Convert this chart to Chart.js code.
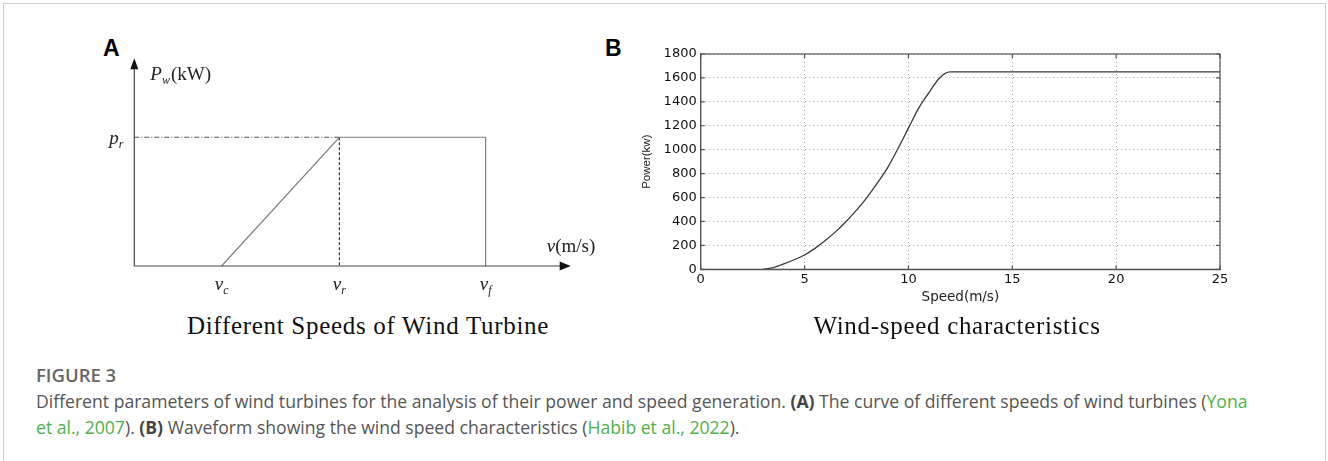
<!DOCTYPE html>
<html>
<head>
<meta charset="utf-8">
<script src="https://cdn.jsdelivr.net/npm/chart.js@4/dist/chart.umd.min.js"></script>
<style>
  html, body { margin: 0; padding: 0; background: #fff; }
  body { width: 1328px; height: 461px; position: relative; overflow: hidden; }
  #frame {
    position: absolute; left: 3px; top: 3px; width: 1321px; height: 470px;
    border: 1px solid #cfcfcf; border-bottom: none;
  }
  canvas { position: absolute; }
  .tag {
    position: absolute; font: bold 23px "Liberation Sans", Arial, sans-serif;
    color: #000; line-height: 23px;
  }
  .title {
    position: absolute; font: 25px "Liberation Serif", serif; color: #111;
    text-align: center; line-height: 25px; white-space: nowrap; letter-spacing: 0.7px;
  }
  #caption {
    position: absolute; left: 36px; top: 362px; width: 1280px;
    font: 17.6px "Open Sans", sans-serif; line-height: 26px; color: #555;
    white-space: nowrap;
  }
  #caption .fig { font-weight: 600; color: #666; font-size: 18.5px; }
  #caption b { font-weight: 700; color: #444; }
  #caption a { color: #4fb04a; text-decoration: none; }
</style>
</head>
<body>
<div id="frame"></div>

<div class="tag" style="left:103px; top:37px;">A</div>
<div class="tag" style="left:605px; top:37px;">B</div>

<canvas id="turbineCurve" width="515" height="275" style="left:95px; top:30px;"></canvas>
<canvas id="windPower" width="640" height="280" style="left:600px; top:30px;"></canvas>

<div class="title" style="left:168px; width:400px; top:313px;">Different Speeds of Wind Turbine</div>
<div class="title" style="left:757px; width:400px; top:313px;">Wind-speed characteristics</div>

<div id="caption">
  <div class="fig">FIGURE 3</div>
  <div>Different parameters of wind turbines for the analysis of their power and speed generation. <b>(A)</b> The curve of different speeds of wind turbines (<a>Yona</a><br><a>et al., 2007</a>). <b>(B)</b> Waveform showing the wind speed characteristics (<a>Habib et al., 2022</a>).</div>
</div>

<script>
// ---- panel A: idealised turbine curve (arbitrary units) ----
const markSpeeds = [2.0, 4.7, 8.05];        // v_c, v_r, v_f
const markNames = ["c", "r", "f"];
const ratedPower = 6.2;                    // p_r
const curveSpeed = [2.0, 4.7, 8.05, 8.05];
const curvePower = [0, 6.2, 6.2, 0];

// ---- panel B: power curve ----
const speedMs = [3, 3.5, 4, 4.5, 5, 5.5, 6, 6.5, 7, 7.5, 8, 8.5, 9, 9.5, 10, 10.5, 11, 11.5, 12, 25];
const powerKw = [0, 15, 45, 80, 120, 175, 240, 315, 400, 495, 600, 720, 850, 1010, 1180, 1350, 1480, 1600, 1650, 1650];
const speedTicks = [0, 5, 10, 15, 20, 25];
const powerTicks = [0, 200, 400, 600, 800, 1000, 1200, 1400, 1600, 1800];

function toPoints(xs, ys) {
  return xs.map((x, i) => ({ x: x, y: ys[i] }));
}

// text with a lowered subscript, drawn from x (left) or centred on x
function drawSubscripted(ctx, main, sub, x, y, align) {
  ctx.font = 'italic 19px "Liberation Serif", serif';
  const w1 = ctx.measureText(main).width;
  ctx.font = 'italic 12px "Liberation Serif", serif';
  const w2 = ctx.measureText(sub).width;
  let left = x;
  if (align === "center") left = x - (w1 + w2) / 2;
  if (align === "right") left = x - (w1 + w2);
  ctx.textAlign = "left";
  ctx.textBaseline = "alphabetic";
  ctx.font = 'italic 19px "Liberation Serif", serif';
  ctx.fillText(main, left, y);
  ctx.font = 'italic 12px "Liberation Serif", serif';
  ctx.fillText(sub, left + w1, y + 4);
  return left + w1 + w2;
}

const sketchAxes = {
  id: "sketchAxes",
  afterDatasetsDraw(chart) {
    const { ctx, chartArea, scales } = chart;
    const x0 = scales.x.getPixelForValue(0);
    const y0 = scales.y.getPixelForValue(0);
    const xEnd = chartArea.right;
    const yEnd = chartArea.top;
    ctx.save();
    ctx.strokeStyle = "#444";
    ctx.fillStyle = "#111";
    ctx.lineWidth = 1.2;
    ctx.beginPath();
    ctx.moveTo(x0, yEnd + 6);
    ctx.lineTo(x0, y0);
    ctx.lineTo(xEnd - 6, y0);
    ctx.stroke();
    // arrow heads
    ctx.beginPath();
    ctx.moveTo(x0, yEnd);
    ctx.lineTo(x0 - 4, yEnd + 11);
    ctx.lineTo(x0 + 4, yEnd + 11);
    ctx.closePath();
    ctx.fill();
    ctx.beginPath();
    ctx.moveTo(xEnd, y0);
    ctx.lineTo(xEnd - 11, y0 - 4.5);
    ctx.lineTo(xEnd - 11, y0 + 4.5);
    ctx.closePath();
    ctx.fill();

    ctx.fillStyle = "#222";
    // y label  P_w(kW)
    let after = drawSubscripted(ctx, "P", "w", x0 + 16, yEnd + 21.5, "left");
    ctx.font = '19px "Liberation Serif", serif';
    ctx.fillText("(kW)", after + 1, yEnd + 21.5);
    // x label  v(m/s)
    ctx.font = 'italic 19px "Liberation Serif", serif';
    const vw = ctx.measureText("v").width;
    ctx.fillText("v", xEnd - 24, y0 - 14);
    ctx.font = '19px "Liberation Serif", serif';
    ctx.fillText("(m/s)", xEnd - 24 + vw, y0 - 14);
    // p_r
    drawSubscripted(ctx, "p", "r", x0 - 11, scales.y.getPixelForValue(ratedPower) + 7, "right");
    // v_c, v_r, v_f
    markSpeeds.forEach((v, i) => {
      drawSubscripted(ctx, "v", markNames[i], scales.x.getPixelForValue(v), y0 + 24, "center");
    });
    ctx.restore();
  }
};

new Chart(document.getElementById("turbineCurve"), {
  type: "scatter",
  data: {
    datasets: [
      {
        data: toPoints(curveSpeed, curvePower),
        showLine: true,
        borderColor: "#7d7d7d",
        borderWidth: 1.2,
        pointRadius: 0
      },
      {
        data: toPoints([0, markSpeeds[1]], [ratedPower, ratedPower]),
        showLine: true,
        borderColor: "#555",
        borderWidth: 1.1,
        borderDash: [5, 2, 1, 2],
        pointRadius: 0
      },
      {
        data: toPoints([markSpeeds[1], markSpeeds[1]], [ratedPower, 0]),
        showLine: true,
        borderColor: "#333",
        borderWidth: 1.2,
        borderDash: [3, 2],
        pointRadius: 0
      }
    ]
  },
  options: {
    responsive: false,
    animation: false,
    devicePixelRatio: 1,
    layout: { padding: { left: 39.3, top: 28.3, right: 39.3, bottom: 39 } },
    plugins: { legend: { display: false }, tooltip: { enabled: false } },
    scales: {
      x: { type: "linear", min: 0, max: 10, display: false },
      y: { type: "linear", min: 0, max: 10, display: false }
    }
  },
  plugins: [sketchAxes]
});

// box outline and inward ticks on all four sides
const boxFrame = {
  id: "boxFrame",
  afterDatasetsDraw(chart) {
    const { ctx, chartArea: a, scales } = chart;
    ctx.save();
    ctx.strokeStyle = "#555";
    ctx.lineWidth = 1.2;
    ctx.strokeRect(a.left, a.top, a.right - a.left, a.bottom - a.top);
    ctx.beginPath();
    speedTicks.forEach(v => {
      const px = scales.x.getPixelForValue(v);
      ctx.moveTo(px, a.bottom); ctx.lineTo(px, a.bottom - 4);
      ctx.moveTo(px, a.top); ctx.lineTo(px, a.top + 4);
    });
    powerTicks.forEach(v => {
      const py = scales.y.getPixelForValue(v);
      ctx.moveTo(a.left, py); ctx.lineTo(a.left + 4, py);
      ctx.moveTo(a.right, py); ctx.lineTo(a.right - 4, py);
    });
    ctx.stroke();
    ctx.restore();
  }
};

new Chart(document.getElementById("windPower"), {
  type: "scatter",
  data: {
    datasets: [
      {
        data: toPoints(speedMs, powerKw),
        showLine: true,
        cubicInterpolationMode: "monotone",
        borderColor: "#3a3a3a",
        borderWidth: 1.3,
        pointRadius: 0
      }
    ]
  },
  options: {
    responsive: false,
    animation: false,
    devicePixelRatio: 1,
    layout: { padding: { left: 0, top: 24, right: 20, bottom: 0 } },
    plugins: { legend: { display: false }, tooltip: { enabled: false } },
    scales: {
      x: {
        type: "linear",
        min: 0,
        max: 25,
        afterBuildTicks: scale => { scale.ticks = speedTicks.map(v => ({ value: v })); },
        afterFit: scale => { scale.height = 40.7; },
        grid: { color: "#a0a0a0", lineWidth: 1, drawTicks: false },
        border: { color: "#555", width: 1.2, dash: [1, 3] },
        ticks: {
          color: "#111",
          padding: 3,
          maxRotation: 0,
          callback: v => String(v),
          font: { family: "DejaVu Sans", size: 13 }
        },
        title: {
          display: true,
          text: "Speed(m/s)",
          color: "#222",
          font: { family: "DejaVu Sans", size: 13.5 },
          padding: { top: 0, bottom: 4 }
        }
      },
      y: {
        type: "linear",
        min: 0,
        max: 1800,
        afterBuildTicks: scale => { scale.ticks = powerTicks.map(v => ({ value: v })); },
        afterFit: scale => { scale.width = 100.7; },
        grid: { color: "#a0a0a0", lineWidth: 1, drawTicks: false },
        border: { color: "#555", width: 1.2, dash: [1, 3] },
        ticks: {
          color: "#111",
          padding: 4,
          callback: v => String(v),
          font: { family: "DejaVu Sans", size: 13 }
        },
        title: {
          display: true,
          text: "Power(kw)",
          color: "#222",
          font: { family: "Liberation Sans", size: 11.5 },
          padding: { top: 40, bottom: 0 }
        }
      }
    }
  },
  plugins: [boxFrame]
});
</script>
</body>
</html>
